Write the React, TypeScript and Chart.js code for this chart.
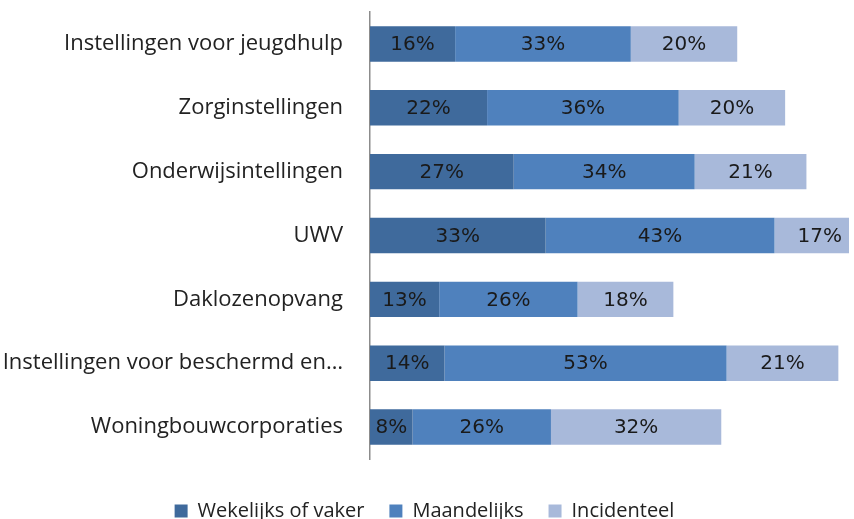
import React, { useEffect, useRef } from "react";
import { Chart, registerables } from "chart.js";

Chart.register(...registerables);

const categories = [
  "Instellingen voor jeugdhulp",
  "Zorginstellingen",
  "Onderwijsintellingen",
  "UWV",
  "Daklozenopvang",
  "Instellingen voor beschermd en…",
  "Woningbouwcorporaties",
];
const wekelijks = [16, 22, 27, 33, 13, 14, 8];
const maandelijks = [33, 36, 34, 43, 26, 53, 26];
const incidenteel = [20, 20, 21, 17, 18, 21, 32];
const seriesNames = ["Wekelijks of vaker", "Maandelijks", "Incidenteel"];
const seriesColors = ["#3F6A9C", "#4F81BD", "#A8B9DA"];
const xMax = 90;

const FONT = "'Open Sans', 'Noto Sans', sans-serif";
const NUM_FONT = "'DejaVu Sans', sans-serif";

const labelPlugin = {
  id: "barLabels",
  afterDatasetsDraw(chart: any) {
    const ctx = chart.ctx;
    ctx.save();
    ctx.font = `20px ${NUM_FONT}`;
    ctx.fillStyle = "#1a1a1a";
    ctx.textAlign = "center";
    ctx.textBaseline = "middle";
    chart.data.datasets.forEach((ds: any, di: number) => {
      const meta = chart.getDatasetMeta(di);
      meta.data.forEach((bar: any, i: number) => {
        const v = ds.data[i];
        ctx.fillText(`${v}%`, (bar.base + bar.x) / 2, bar.y + 1);
      });
    });
    ctx.restore();
  },
};

export default function App() {
  const ref = useRef<HTMLCanvasElement>(null);
  useEffect(() => {
    document.body.style.margin = "0";
    const chart = new Chart(ref.current!, {
      type: "bar",
      data: {
        labels: categories,
        datasets: [wekelijks, maandelijks, incidenteel].map((d, i) => ({
          label: seriesNames[i],
          data: d,
          backgroundColor: seriesColors[i],
          borderWidth: 0,
          barPercentage: 0.555,
          categoryPercentage: 1,
        })),
      },
      options: {
        indexAxis: "y",
        animation: false,
        responsive: false,
        layout: { padding: { top: 12, right: 5, bottom: -12, left: 0 } },
        scales: {
          x: {
            stacked: true,
            min: 0,
            max: xMax,
            display: false,
          },
          y: {
            stacked: true,
            grid: { display: false, drawTicks: false },
            border: { display: true, color: "#8c8c8c", width: 1.5 },
            ticks: {
              color: "#222",
              font: { size: 22, family: FONT },
              padding: 27,
              autoSkip: false,
            },
            afterFit: (s: any) => {
              s.width = 370;
              s.paddingTop = 0;
              s.paddingBottom = 0;
            },
          },
        },
        plugins: {
          legend: {
            position: "bottom",
            title: {
              display: true,
              text: " ",
              font: { size: 10, lineHeight: 1.2 },
              padding: { top: 0, bottom: 5 },
            },
            labels: {
              color: "#222",
              font: { size: 20, family: FONT },
              boxWidth: 13,
              boxHeight: 13,
              padding: 25,
            },
          },
          tooltip: { enabled: false },
        },
      },
      plugins: [labelPlugin],
    });
    return () => chart.destroy();
  }, []);
  return (
    <div style={{ position: "absolute", left: 0, top: 0, width: 854, height: 519 }}>
      <canvas ref={ref} width={854} height={519} />
    </div>
  );
}
